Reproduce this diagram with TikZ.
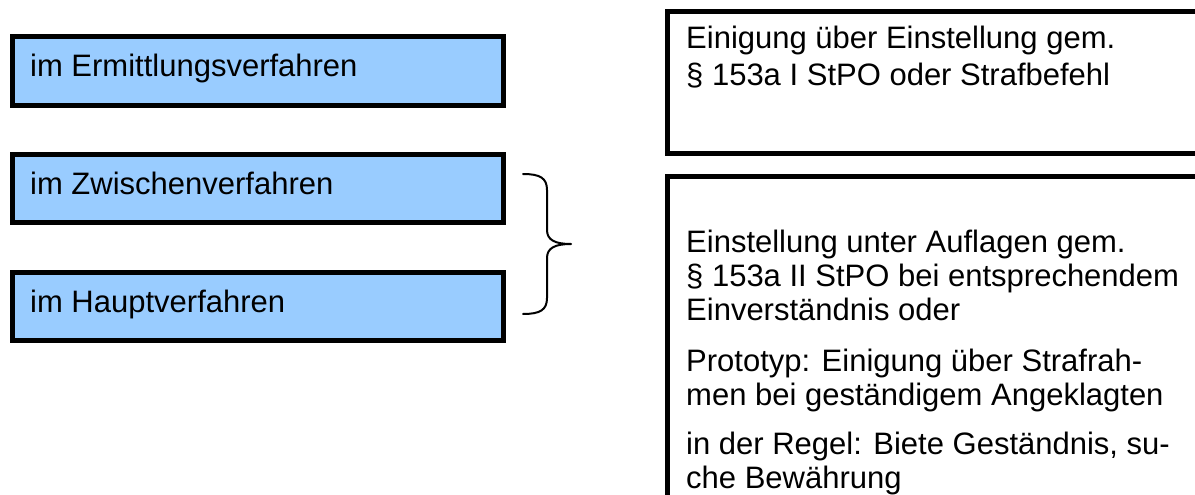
\documentclass[tikz,border=0pt]{standalone}
\usepackage{fontspec}
\setmainfont{Liberation Sans}
\definecolor{stageblue}{RGB}{153,204,255}
\begin{document}
\begin{tikzpicture}[x=1pt,y=-1pt,
  stage/.style={draw=black, line width=5pt, fill=stageblue, inner sep=0pt, anchor=north west, minimum width=491pt},
  panel/.style={draw=black, line width=5pt, fill=white, inner sep=0pt, anchor=north west, minimum width=560pt},
  lbl/.style={anchor=base west, inner sep=0pt, font=\fontsize{31}{35}\selectfont},
  brace/.style={draw=black, line width=2pt, line cap=round, line join=round}]
\useasboundingbox (0,0) rectangle (1195,495);
\clip (0,0) rectangle (1195,495);

% procedural stages (left column)
\node[stage, minimum height=69pt] (s1) at (9.5,34.5) {};
\node[stage, minimum height=68pt] (s2) at (9.5,151.5) {};
\node[stage, minimum height=68pt] (s3) at (9.5,269.5) {};
\node[lbl] (ls1) at (30,77) {im Ermittlungsverfahren};
\node[lbl] (ls2) at (30,194) {im Zwischenverfahren};
\node[lbl] (ls3) at (30,312) {im Hauptverfahren};

% outcome panels (right column, running off the page)
\node[panel, minimum height=141pt] (p1) at (664.5,9.5) {};
\node[panel, minimum height=340pt] (p2) at (664.5,174) {};

\node[lbl] (a1) at (686,49) {Einigung über Einstellung gem.};
\node[lbl] (a2) at (686,86) {§ 153a I StPO oder Strafbefehl};

\node[lbl] (b1) at (686,252) {Einstellung unter Auflagen gem.};
\node[lbl] (b2) at (686,286) {§ 153a II StPO bei entsprechendem};
\node[lbl] (b3) at (686,320) {Einverständnis oder};
\node[lbl] (b4) at (686,371) {Prototyp: Einigung über Strafrah-};
\node[lbl] (b5) at (686,405) {men bei geständigem Angeklagten};
\node[lbl] (b6) at (686,454) {in der Regel: Biete Geständnis, su-};
\node[lbl] (b7) at (686,488) {che Bewährung};

% curly brace grouping the two later stages
\coordinate (bt) at (523,174);
\coordinate (tip) at (571,244);
\coordinate (bb) at (523,314);
\draw[brace] (bt) .. controls (540,174) and (547,178) .. (547,190)
  -- (547,230) .. controls (547,240) and (555,244) .. (tip)
  .. controls (555,244) and (547,248) .. (547,258)
  -- (547,298) .. controls (547,310) and (540,314) .. (bb);
\end{tikzpicture}
\end{document}
